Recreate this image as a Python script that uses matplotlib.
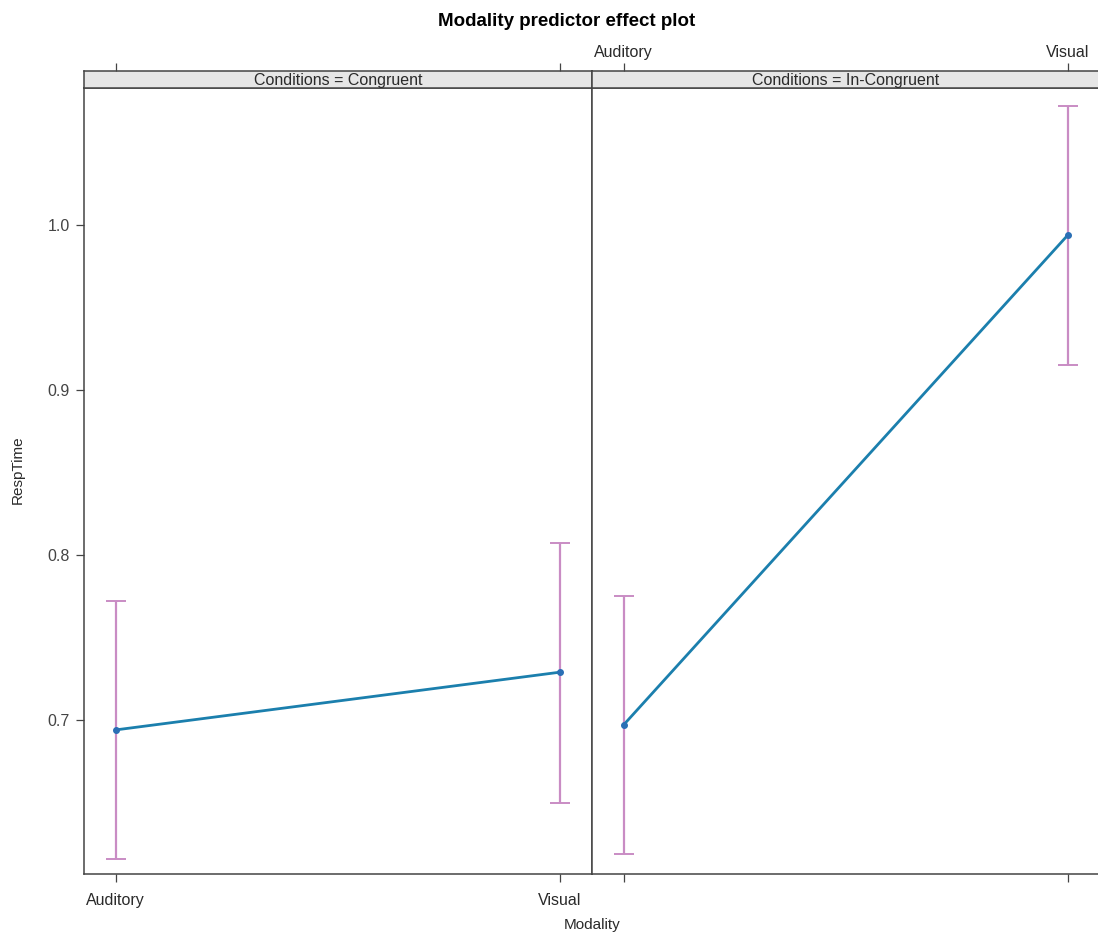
import numpy as np
import matplotlib.pyplot as plt

# effect estimates
conditions = ["Congruent", "In-Congruent"]
modality = ["Auditory", "Visual"]
fit = [[0.694, 0.729], [0.697, 0.994]]
lower = [[0.616, 0.650], [0.619, 0.915]]
upper = [[0.772, 0.807], [0.775, 1.072]]
y_ticks = [0.7, 0.8, 0.9, 1.0]

plt.rcParams['font.family'] = ['Liberation Sans', 'DejaVu Sans']

W, H = 1098, 935
fig = plt.figure(figsize=(W / 100, H / 100), dpi=100)


def fx(px):
    return px / W


def fy(py):
    return 1 - py / H


# panel geometry in pixels (right panel runs off the page like the original)
left0, pw = 84, 508
strip_top, strip_bot, bottom = 71, 88, 874
frame = "#444444"
line_col = "#1b7fad"
ci_col = "#c98cc4"
txt = "#2a2a2a"

x = np.arange(len(modality))
for i, cond in enumerate(conditions):
    ax = fig.add_axes([fx(left0 + i * pw), fy(bottom), fx(pw), (bottom - strip_bot) / H])
    st = fig.add_axes([fx(left0 + i * pw), fy(strip_bot), fx(pw), (strip_bot - strip_top) / H],
                      sharex=ax)

    f = np.array(fit[i])
    lo = np.array(lower[i])
    hi = np.array(upper[i])
    ax.errorbar(x, f, yerr=[f - lo, hi - f], fmt="none", ecolor=ci_col,
                elinewidth=1.6, capsize=7, capthick=1.4, zorder=2)
    ax.plot(x, f, color=line_col, lw=2.0, marker="o", ms=4,
            mfc="#2a6fb5", mec="#2a6fb5", zorder=3)

    ax.set_xlim(-0.0709, 1.072)
    ax.set_ylim(0.6067, 1.083)
    for sp in ax.spines.values():
        sp.set_color(frame)
        sp.set_linewidth(1.1)

    ax.set_xticks(x)
    ax.tick_params(axis="x", direction="out", length=6, width=0.9, color=frame,
                   labelsize=11.5, pad=8, labelcolor=txt, labelbottom=(i == 0))
    ax.set_yticks(y_ticks)
    if i == 0:
        ax.set_xticklabels(modality)
        ax.set_yticklabels([f"{v:.1f}" for v in y_ticks])
        ax.tick_params(axis="y", direction="out", length=6, width=0.9, color=frame,
                       labelsize=11.5, pad=4, labelcolor="#444444")
    else:
        ax.tick_params(axis="y", left=False, labelleft=False, right=True,
                       direction="out", length=6, color=frame)

    # strip with condition label and top ticks
    st.set_facecolor("#e6e6e6")
    st.set_ylim(0, 1)
    st.set_yticks([])
    for sp in st.spines.values():
        sp.set_color(frame)
        sp.set_linewidth(1.1)
    st.text(0.5, 0.45, f"Conditions = {cond}", transform=st.transAxes,
            ha="center", va="center", fontsize=11.5, color=txt)
    st.tick_params(axis="x", bottom=False, labelbottom=False, top=True,
                   labeltop=(i == 1), direction="out", length=6, width=0.9,
                   color=frame, labelsize=11.5, labelcolor=txt, pad=2)
    if i == 1:
        st.set_xticklabels(modality)

fig.text(fx(18), fy(470), "RespTime", rotation=90, ha="center", va="center",
         fontsize=11, color=txt)
fig.text(fx(592), fy(925), "Modality", ha="center", va="center",
         fontsize=11, color=txt)
fig.text(fx(567), fy(22), "Modality predictor effect plot", ha="center",
         va="center", fontsize=13.5, fontweight="bold")

fig.savefig("out.png", dpi=100)
